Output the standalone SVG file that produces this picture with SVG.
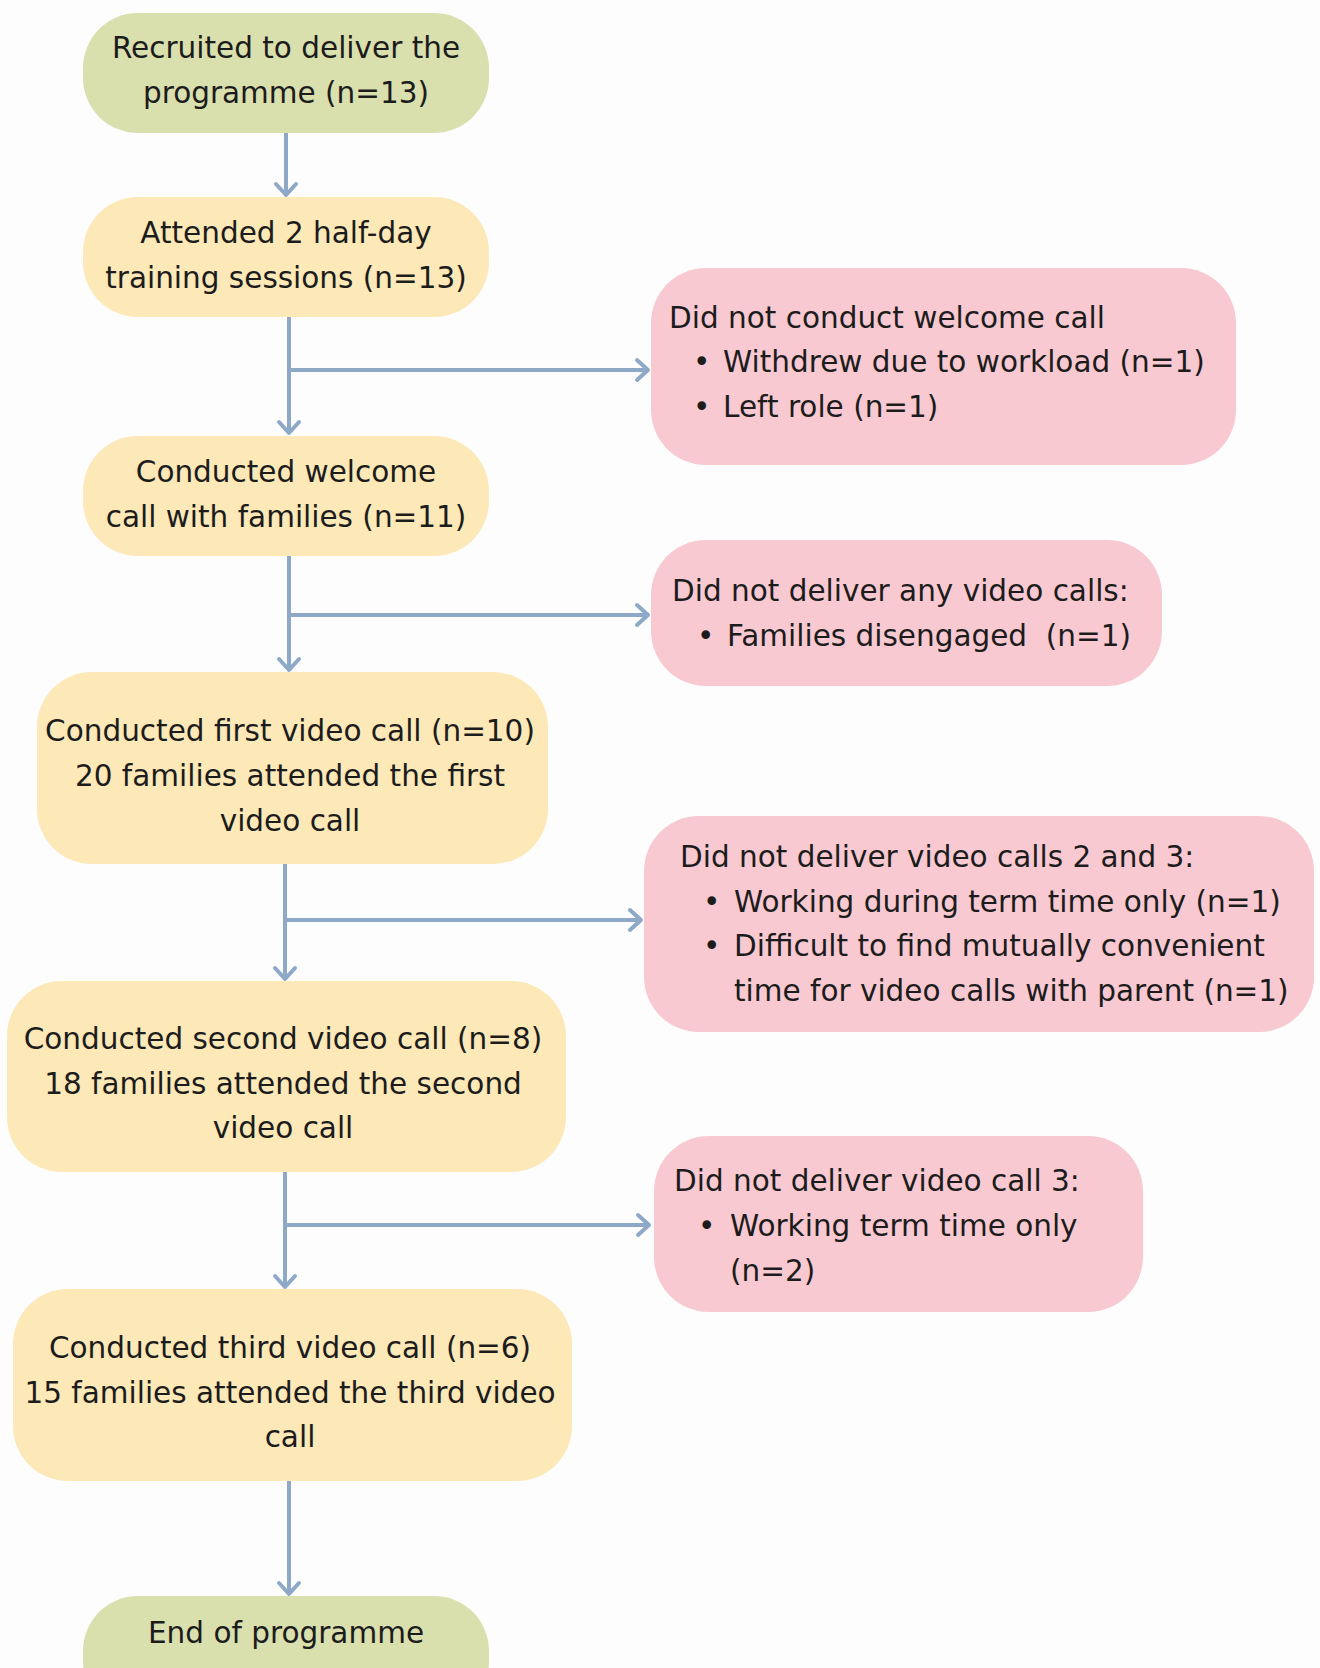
<svg xmlns="http://www.w3.org/2000/svg" width="1320" height="1668" viewBox="0 0 1320 1668">
<defs>
<style>
.t{font-family:"DejaVu Sans",Verdana,sans-serif;font-size:29.5px;fill:#1c1c1c}
.c{text-anchor:middle}
.g{fill:#dadfae}
.y{fill:#fde8b8}
.p{fill:#f8c9d1}
.ln{stroke:#8ea9c8;stroke-width:4;fill:none}
</style>
<marker id="ah" viewBox="-14 -13 17 26" markerWidth="17" markerHeight="26" refX="0" refY="0" orient="auto" markerUnits="userSpaceOnUse">
<path d="M-11,-10 L0,0 L-11,10" fill="none" stroke="#8ea9c8" stroke-width="4" stroke-linecap="round" stroke-linejoin="round"/>
</marker>
</defs>
<rect width="1320" height="1668" fill="#fdfdfd"/>

<g id="connectors">
<line class="ln" x1="286" y1="133" x2="286" y2="195" marker-end="url(#ah)"/>
<line class="ln" x1="289" y1="317" x2="289" y2="433" marker-end="url(#ah)"/>
<line class="ln" x1="289" y1="370" x2="648" y2="370" marker-end="url(#ah)"/>
<line class="ln" x1="289" y1="556" x2="289" y2="670" marker-end="url(#ah)"/>
<line class="ln" x1="289" y1="615" x2="648" y2="615" marker-end="url(#ah)"/>
<line class="ln" x1="285" y1="864" x2="285" y2="979" marker-end="url(#ah)"/>
<line class="ln" x1="285" y1="920" x2="641" y2="920" marker-end="url(#ah)"/>
<line class="ln" x1="285" y1="1172" x2="285" y2="1287" marker-end="url(#ah)"/>
<line class="ln" x1="285" y1="1225" x2="649" y2="1225" marker-end="url(#ah)"/>
<line class="ln" x1="289" y1="1481" x2="289" y2="1594" marker-end="url(#ah)"/>
</g>

<g id="n1">
<rect class="g" x="83" y="13" width="406" height="120" rx="55"/>
<text class="t c" x="286" y="58">Recruited to deliver the</text>
<text class="t c" x="286" y="103">programme (n=13)</text>
</g>

<g id="n2">
<rect class="y" x="83" y="197" width="406" height="120" rx="55"/>
<text class="t c" x="286" y="243">Attended 2 half-day</text>
<text class="t c" x="286" y="288">training sessions (n=13)</text>
</g>

<g id="n3">
<rect class="y" x="83" y="436" width="406" height="120" rx="55"/>
<text class="t c" x="286" y="482">Conducted welcome</text>
<text class="t c" x="286" y="527">call with families (n=11)</text>
</g>

<g id="n4">
<rect class="y" x="37" y="672" width="511" height="192" rx="55"/>
<text class="t c" x="290" y="741">Conducted first video call (n=10)</text>
<text class="t c" x="290" y="786">20 families attended the first</text>
<text class="t c" x="290" y="831">video call</text>
</g>

<g id="n5">
<rect class="y" x="7" y="981" width="559" height="191" rx="55"/>
<text class="t c" x="283" y="1049">Conducted second video call (n=8)</text>
<text class="t c" x="283" y="1094">18 families attended the second</text>
<text class="t c" x="283" y="1138">video call</text>
</g>

<g id="n6">
<rect class="y" x="13" y="1289" width="559" height="192" rx="55"/>
<text class="t c" x="290" y="1358">Conducted third video call (n=6)</text>
<text class="t c" x="290" y="1403">15 families attended the third video</text>
<text class="t c" x="290" y="1447">call</text>
</g>

<g id="n7">
<rect class="g" x="83" y="1596" width="406" height="120" rx="55"/>
<text class="t c" x="286" y="1643">End of programme</text>
</g>

<g id="p1">
<rect class="p" x="651" y="268" width="585" height="197" rx="55"/>
<text class="t" x="669" y="328">Did not conduct welcome call</text>
<text class="t" x="693" y="372">•</text>
<text class="t" x="723" y="372">Withdrew due to workload (n=1)</text>
<text class="t" x="693" y="417">•</text>
<text class="t" x="723" y="417">Left role (n=1)</text>
</g>

<g id="p2">
<rect class="p" x="651" y="540" width="511" height="146" rx="55"/>
<text class="t" x="672" y="601">Did not deliver any video calls:</text>
<text class="t" x="697" y="646">•</text>
<text class="t" x="727" y="646" xml:space="preserve">Families disengaged  (n=1)</text>
</g>

<g id="p3">
<rect class="p" x="644" y="816" width="670" height="216" rx="55"/>
<text class="t" x="680" y="867">Did not deliver video calls 2 and 3:</text>
<text class="t" x="703" y="912">•</text>
<text class="t" x="734" y="912">Working during term time only (n=1)</text>
<text class="t" x="703" y="956">•</text>
<text class="t" x="734" y="956">Difficult to find mutually convenient</text>
<text class="t" x="734" y="1001">time for video calls with parent (n=1)</text>
</g>

<g id="p4">
<rect class="p" x="654" y="1136" width="489" height="176" rx="55"/>
<text class="t" x="674" y="1191">Did not deliver video call 3:</text>
<text class="t" x="698" y="1236">•</text>
<text class="t" x="730" y="1236">Working term time only</text>
<text class="t" x="730" y="1281">(n=2)</text>
</g>
</svg>
